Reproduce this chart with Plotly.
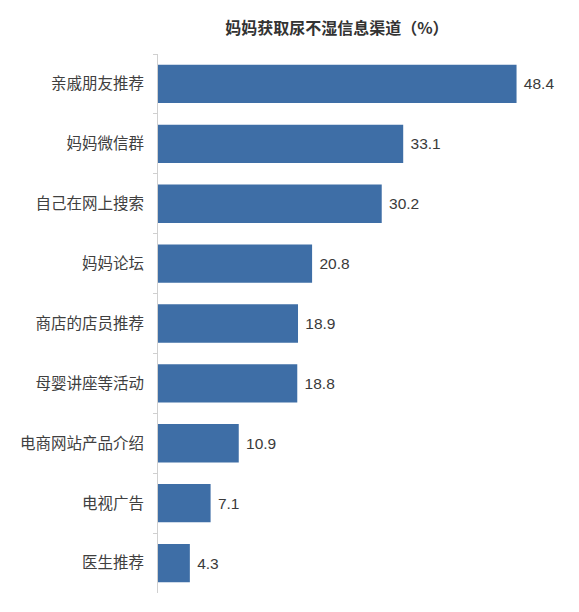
import plotly.graph_objects as go

categories = ["亲戚朋友推荐", "妈妈微信群", "自己在网上搜索", "妈妈论坛", "商店的店员推荐",
              "母婴讲座等活动", "电商网站产品介绍", "电视广告", "医生推荐"]
values = [48.4, 33.1, 30.2, 20.8, 18.9, 18.8, 10.9, 7.1, 4.3]
title_text = "妈妈获取尿不湿信息渠道（%）"

font_family = "Noto Sans CJK SC"

fig = go.Figure()
fig.add_bar(
    y=categories, x=values, orientation="h",
    marker=dict(color="#3e6ea6", line=dict(width=0)),
    text=[" " + str(v) for v in values], textposition="outside",
    textfont=dict(size=15.5, color="#3a3a3a", family="Liberation Sans"),
    cliponaxis=False,
)

fig.update_layout(
    width=579, height=612,
    margin=dict(l=140, r=50, t=46, b=27),
    paper_bgcolor="white", plot_bgcolor="white",
    bargap=0.36,
    showlegend=False,
    font=dict(family=font_family, color="#404040"),
    title=dict(text="<b>" + title_text + "</b>", x=0.568, xanchor="center",
               y=0.967, yanchor="middle",
               font=dict(size=16, color="#333333", family=font_family)),
)
fig.update_xaxes(range=[0, 51.16], visible=False)
fig.update_yaxes(
    autorange="reversed", showline=True, linecolor="#d0d0d0", linewidth=1,
    ticks="outside", tickson="boundaries", ticklen=4, tickcolor="#d0d0d0",
    tickfont=dict(size=15.5, color="#404040"), ticklabelstandoff=10,
    showgrid=False,
)

fig.write_html("out.html")
